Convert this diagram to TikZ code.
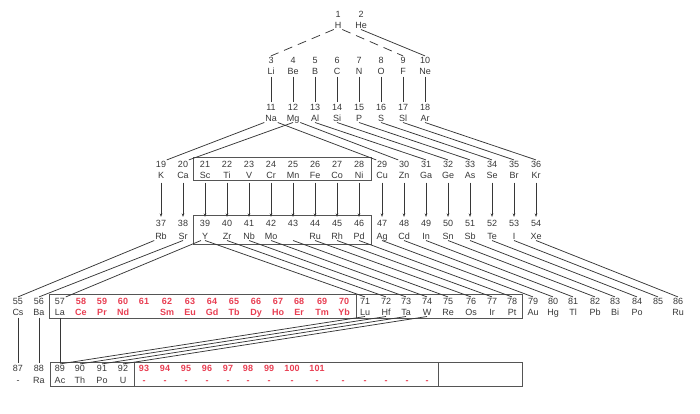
\documentclass[tikz,border=0pt]{standalone}
\usepackage{fontspec}
\setmainfont{Liberation Sans}
\usetikzlibrary{arrows.meta}
\definecolor{ink}{RGB}{55,55,55}
\definecolor{redel}{RGB}{232,62,82}
\tikzset{
  num/.style={inner sep=0.6pt, text height=6.6pt, text depth=0pt, font=\fontsize{9}{10}\selectfont, text=ink},
  sym/.style={inner sep=0.8pt, text height=6.6pt, text depth=0.4pt, font=\fontsize{9}{10}\selectfont, text=ink},
  rnum/.style={num, text=redel, font=\fontsize{9}{10}\selectfont\bfseries},
  rsym/.style={sym, text=redel, font=\fontsize{9}{10}\selectfont\bfseries},
  link/.style={draw=ink, line width=0.75pt},
  dlink/.style={link, dash pattern=on 9pt off 6pt},
  vlink/.style={link, shorten <=1pt, shorten >=1pt},
  arr/.style={link, -{Stealth[length=3.5pt,width=2.6pt]}, shorten <=3pt, shorten >=2pt},
  framebox/.style={draw=ink!85, line width=0.6pt}
}
\begin{document}
\begin{tikzpicture}[x=1pt,y=-1pt]
\useasboundingbox (0,0) rectangle (700,413);
% ---- row 1
\node[num] (n1) at (338,14) {1};  \node[sym] (s1) at (338,25) {H};
\node[num] (n2) at (361,14) {2};  \node[sym] (s2) at (361,25) {He};
% ---- rows 2 and 3
\foreach \n/\x/\s in {3/271/Li,4/293/Be,5/315/B,6/337/C,7/359/N,8/381/O,9/403/F,10/425/Ne}{
  \node[num] (n\n) at (\x,60) {\n}; \node[sym] (s\n) at (\x,71) {\s};}
\foreach \n/\x/\s in {11/271/Na,12/293/Mg,13/315/Al,14/337/Si,15/359/P,16/381/S,17/403/Sl,18/425/Ar}{
  \node[num] (n\n) at (\x,107) {\n}; \node[sym] (s\n) at (\x,118) {\s};}
% ---- row 4
\foreach \n/\x/\s in {19/161/K,20/183/Ca,21/205/Sc,22/227/Ti,23/249/V,24/271/Cr,25/293/Mn,26/315/Fe,27/337/Co,28/359/Ni,29/382/Cu,30/404/Zn,31/426/Ga,32/448/Ge,33/470/As,34/492/Se,35/514/Br,36/536/Kr}{
  \node[num] (n\n) at (\x,164) {\n}; \node[sym] (s\n) at (\x,175) {\s};}
% ---- row 5
\foreach \n/\x/\s in {37/161/Rb,38/183/Sr,39/205/Y,40/227/Zr,41/249/Nb,42/271/Mo,43/293/,44/315/Ru,45/337/Rh,46/359/Pd,47/382/Ag,48/404/Cd,49/426/In,50/448/Sn,51/470/Sb,52/492/Te,53/514/I,54/536/Xe}{
  \node[num] (n\n) at (\x,223) {\n}; \node[sym] (s\n) at (\x,236) {\s};}
% ---- row 6
\foreach \n/\x/\s in {55/18/Cs,56/39/Ba,57/60/La,71/365/Lu,72/386/Hf,73/406/Ta,74/427/W,75/448/Re,76/471/Os,77/492/Ir,78/512/Pt,79/533/Au,80/553/Hg,81/573/Tl,82/595/Pb,83/615/Bi,84/637/Po,85/658/,86/678/Ru}{
  \node[num] (n\n) at (\x,301) {\n}; \node[sym] (s\n) at (\x,312) {\s};}
\foreach \n/\x/\s in {58/81/Ce,59/102/Pr,60/123/Nd,61/144/,62/167/Sm,63/190/Eu,64/212/Gd,65/234/Tb,66/256/Dy,67/278/Ho,68/299/Er,69/322/Tm,70/344/Yb}{
  \node[rnum] (n\n) at (\x,301) {\n}; \node[rsym] (s\n) at (\x,312) {\s};}
% ---- row 7
\foreach \n/\x/\s in {87/18/-,88/39/Ra,89/60/Ac,90/80/Th,91/102/Po,92/123/U}{
  \node[num] (n\n) at (\x,368) {\n}; \node[sym] (s\n) at (\x,380) {\s};}
\foreach \n/\x in {93/144,94/165,95/186,96/207,97/228,98/248,99/269,100/292,101/317}{
  \node[rnum] (n\n) at (\x,368) {\n}; \node[rsym] (s\n) at (\x,380) {-};}
\foreach \k/\x in {1/343,2/365,3/386,4/407,5/427}{
  \node[rsym] (d\k) at (\x,380) {-};}
% ---- frames
\draw[framebox] (193,157) rectangle (371,180);
\draw[framebox] (193,215) rectangle (371,244);
\draw[framebox] (49,294) rectangle (522,318);
\draw[framebox] (356,294) -- (356,318);
\draw[framebox] (50,362) rectangle (522,386);
\draw[framebox] (134,362) -- (134,386);
\draw[framebox] (438,362) -- (438,386);
% ---- connectors row 1 -> 2
\draw[dlink] (s1.south west) -- (n3.north);
\draw[dlink] (s1.south east) -- (n9.north);
\draw[link] (s2.south) -- (n10.north);
% ---- row 2 -> 3
\foreach \a [evaluate=\a as \b using int(\a+8)] in {3,...,10}
  \draw[vlink] (s\a.south) -- (n\b.north);
% ---- row 3 -> 4
\draw[link] (s11.south west) -- (n19.north east);
\draw[link] (s12.south) -- (n20.north east);
\draw[link] (s11.south east) -- (n29.north west);
\draw[link] (s12.south east) -- (n30.north west);
\foreach \a [evaluate=\a as \b using int(\a+18)] in {13,...,18}
  \draw[link] (s\a.south) -- (n\b.north);
% ---- row 4 -> 5
\foreach \a [evaluate=\a as \b using int(\a+18)] in {19,...,36}
  \draw[arr] (s\a.south) -- (n\b.north);
% ---- row 5 -> 6
\draw[link] (s37.south west) -- (n55.north);
\draw[link] (s38.south) -- (n56.north);
\draw[link] (s39.south west) -- (n57.north east);
\foreach \a [evaluate=\a as \b using int(\a+32)] in {39,...,54}
  \draw[link] (s\a.south) -- (n\b.north);
% ---- row 6 -> 7
\draw[vlink] (s55.south) -- (n87.north);
\draw[vlink] (s56.south) -- (n88.north);
\draw[vlink] (s57.south) -- (n89.north);
\foreach \a [evaluate=\a as \b using int(\a+18)] in {71,...,74}
  \draw[link] (s\a.south) -- (n\b.north);
\end{tikzpicture}
\end{document}
